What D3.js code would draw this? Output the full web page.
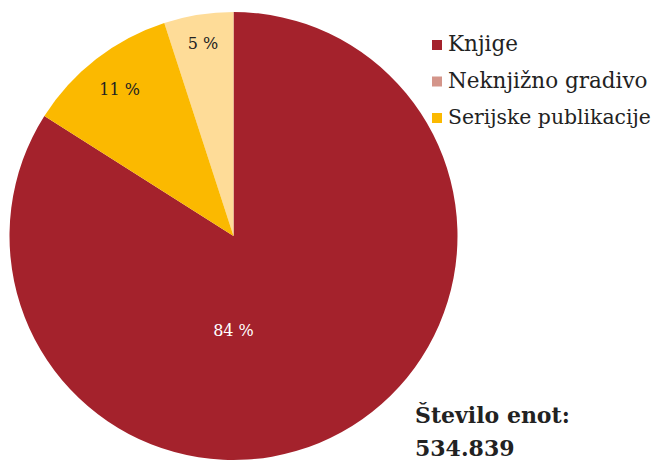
<!DOCTYPE html>
<html><head><meta charset="utf-8">
<script src="https://cdn.jsdelivr.net/npm/d3@7"></script>
<style>body{margin:0;background:#fff}svg{display:block}</style>
</head><body>
<script>
// Data
const categories = ["Knjige", "Neknjižno gradivo", "Serijske publikacije"];
const values = [84, 5, 11];
const labels = ["84 %", "5 %", "11 %"];
const drawOrder = [0, 2, 1]; // clockwise from 12 o'clock
const sliceColors = ["#a4222c", "#fedc98", "#fbb900"];
const legendColors = ["#a4222c", "#d4958a", "#fbb900"];
const totalTitle = "Število enot:";
const totalValue = "534.839";

const FONT = "'DejaVu Serif', serif";
const W = 655, H = 461;
const cx = 233.5, cy = 236, R = 224;
const svg = d3.select("body").append("svg").attr("width", W).attr("height", H);

const pie = d3.pie().sort((a, b) => drawOrder.indexOf(a.i) - drawOrder.indexOf(b.i)).value(d => d.v);
const data = categories.map((c, i) => ({c, v: values[i], i}));
const arcs = pie(data);
const arc = d3.arc().innerRadius(0).outerRadius(R);
const g = svg.append("g").attr("transform", `translate(${cx},${cy})`);
g.selectAll("path").data(arcs).join("path")
  .attr("d", arc).attr("fill", d => sliceColors[d.data.i]);

const labelR = [0.42, 0.87, 0.83];
const labelColor = ["#ffffff", "#222", "#222"];
g.selectAll("text.lbl").data(arcs).join("text")
  .attr("class", "lbl")
  .attr("transform", d => {
    const rr = labelR[d.data.i] * R;
    let a = (d.startAngle + d.endAngle) / 2;
    if (d.data.i === 0) a = Math.PI; // large slice label below center
    return `translate(${rr * Math.sin(a)},${-rr * Math.cos(a)})`;
  })
  .attr("text-anchor", "middle").attr("dy", "0.35em")
  .style("font-family", FONT).attr("font-size", 16)
  .attr("fill", d => labelColor[d.data.i])
  .text(d => labels[d.data.i]);

// Legend
const lgX = 432;
const lg = svg.append("g").attr("transform", `translate(${lgX},0)`);
const rowY = d3.scalePoint().domain(categories).range([44, 117]);
const baseFs = 21.5;
categories.forEach((c, i) => {
  lg.append("rect").attr("x", 0).attr("y", rowY(c) - 4).attr("width", 10).attr("height", 10)
    .attr("fill", legendColors[i]);
  const t = lg.append("text").attr("x", 16).attr("y", rowY(c) + 7)
    .style("font-family", FONT).attr("font-size", baseFs)
    .attr("fill", "#222").text(c);
  const maxLen = W - 4 - (lgX + 16);
  const len = t.node().getComputedTextLength();
  if (len > maxLen) t.attr("font-size", baseFs * maxLen / len);
});

// Total
svg.append("text").attr("x", 415).attr("y", 423)
  .style("font-family", FONT).attr("font-weight", "bold").attr("font-size", 22)
  .attr("fill", "#222").text(totalTitle);
svg.append("text").attr("x", 415).attr("y", 456)
  .style("font-family", FONT).attr("font-weight", "bold").attr("font-size", 22)
  .attr("fill", "#222").text(totalValue);
</script>
</body></html>
